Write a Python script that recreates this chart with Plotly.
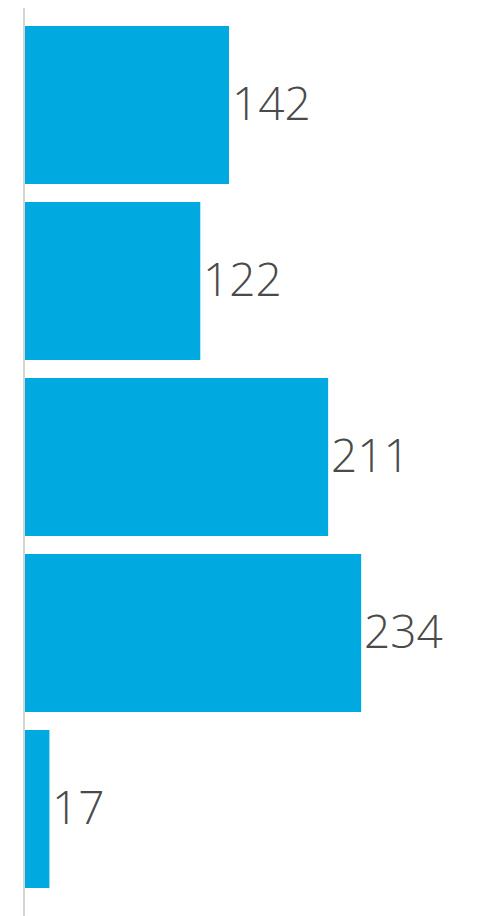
import plotly.graph_objects as go

categories = ["A", "B", "C", "D", "E"]
values = [142, 122, 211, 234, 17]

bar_color = "#00a9e0"
text_color = "#4a4a4a"

fig = go.Figure(
    go.Bar(
        x=values,
        y=categories,
        orientation="h",
        marker=dict(color=bar_color, line=dict(width=0)),
        width=0.898,
        hoverinfo="skip",
    )
)

# value labels just right of each bar end
for cat, val in zip(categories, values):
    fig.add_annotation(
        x=val,
        y=cat,
        text=str(val),
        showarrow=False,
        xanchor="left",
        yanchor="middle",
        xshift=1,
        yshift=3,
        font=dict(family="Open Sans", size=46, color=text_color, weight=300),
    )

fig.update_layout(
    width=479,
    height=916,
    margin=dict(l=25, r=0, t=8, b=0),
    paper_bgcolor="white",
    plot_bgcolor="white",
    showlegend=False,
)

fig.update_xaxes(
    range=[0, 316.0],
    showgrid=False,
    zeroline=False,
    showticklabels=False,
    ticks="",
    showline=False,
)

fig.update_yaxes(
    categoryorder="array",
    categoryarray=categories,
    range=[4.608, -0.551],
    showgrid=False,
    zeroline=False,
    showticklabels=False,
    ticks="",
    showline=True,
    linecolor="#d4d4d4",
    linewidth=2,
)

fig.write_html("out.html")
